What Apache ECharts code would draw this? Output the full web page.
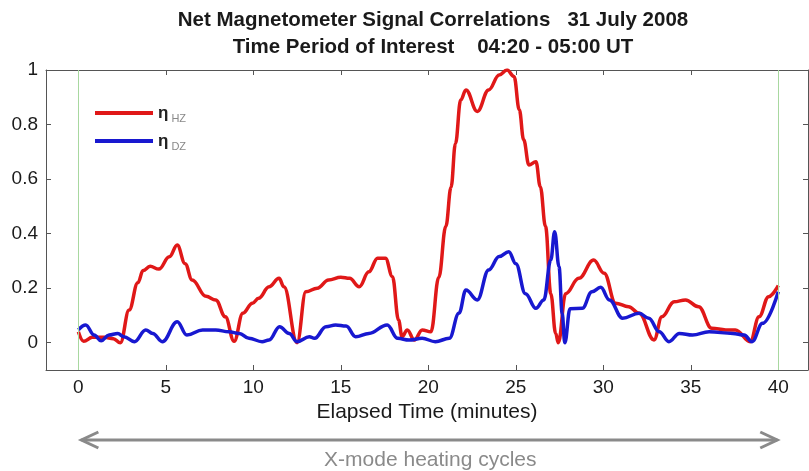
<!DOCTYPE html>
<html>
<head>
<meta charset="utf-8">
<script src="https://cdn.jsdelivr.net/npm/echarts@6/dist/echarts.min.js"></script>
<style>
  html, body { margin: 0; padding: 0; background: #fff; }
  #chart { width: 809px; height: 471px; }
</style>
</head>
<body>
<div id="chart"></div>
<script>
// Elapsed time (minutes) and correlation values for the H-Z pair
const hzTime = [0, 0.3, 0.8, 1.5, 2.0, 2.4, 2.9, 3.4, 3.7, 4.1, 4.6, 5.2, 5.65, 6.1, 6.5, 7.3, 7.85, 8.4, 8.9,
  9.4, 9.95, 10.3, 10.9, 11.47, 11.75, 12.5, 13.0, 13.65, 14.3, 15.0, 15.5, 16.05, 16.6, 17.1, 17.55, 17.95,
  18.3, 18.5, 18.8, 19.2, 19.65, 20.15, 20.6, 21.0, 21.3, 21.55, 21.85, 22.15, 22.8, 23.45, 24.05, 24.5, 24.9,
  25.2, 25.45, 25.75, 26.15, 26.4, 26.7, 27.0, 27.28, 27.43, 27.85, 28.6, 29.45, 30.05, 30.7, 31.45, 32.05,
  32.9, 33.35, 34.05, 34.7, 35.45, 36.2, 37.0, 37.55, 38.4, 38.9, 39.45, 40.0];
const hzValue = [0.04, 0.005, 0.02, 0.02, 0.015, 0.0, 0.12, 0.22, 0.265, 0.28, 0.27, 0.315, 0.358, 0.29, 0.23, 0.17, 0.157, 0.095, 0.005,
  0.108, 0.145, 0.163, 0.205, 0.236, 0.205, 0.0, 0.187, 0.2, 0.23, 0.24, 0.236, 0.205, 0.26, 0.31, 0.31, 0.242,
  0.083, 0.022, 0.047, 0.01, 0.047, 0.04, 0.24, 0.426, 0.57, 0.73, 0.89, 0.927, 0.848, 0.927, 0.982, 1.0, 0.976,
  0.854, 0.744, 0.652, 0.664, 0.572, 0.426, 0.18, 0.034, 0.0, 0.18, 0.236, 0.303, 0.255, 0.145, 0.132, 0.108,
  0.01, 0.095, 0.15, 0.157, 0.132, 0.053, 0.047, 0.047, 0.004, 0.095, 0.169, 0.21];

// Elapsed time (minutes) and correlation values for the D-Z pair
const dzTime = [0, 0.42, 0.9, 1.3, 1.75, 2.25, 2.6, 3.2, 3.85, 4.25, 4.8, 5.65, 6.2, 7.1, 7.85, 8.6, 9.2, 9.75, 10.5,
  10.9, 11.5, 12.05, 12.5, 13.2, 13.5, 14.15, 14.7, 15.3, 15.85, 16.6, 17.65, 18.25, 18.9, 19.65, 20.4, 21.2,
  21.75, 22.15, 22.8, 23.45, 24.05, 24.6, 25.0, 25.55, 26.15, 26.6, 27.0, 27.22, 27.47, 27.65, 27.8, 28.1, 28.8,
  29.35, 29.85, 30.35, 31.1, 32.05, 32.6, 33.2, 33.75, 34.35, 35.1, 36.05, 37.4, 38.05, 38.5, 39.1, 40.0];
const dzValue = [0.047, 0.065, 0.028, 0.007, 0.028, 0.034, 0.022, 0.004, 0.047, 0.034, 0.004, 0.077, 0.028, 0.047, 0.047, 0.04, 0.034, 0.016, 0.004,
  0.01, 0.059, 0.034, 0.004, 0.022, 0.016, 0.059, 0.065, 0.061, 0.022, 0.034, 0.065, 0.016, 0.01, 0.016, 0.004, 0.016,
  0.108, 0.193, 0.157, 0.267, 0.316, 0.334, 0.29, 0.18, 0.126, 0.157, 0.303, 0.407, 0.279, 0.108, 0.0, 0.125, 0.126,
  0.187, 0.203, 0.157, 0.09, 0.108, 0.09, 0.04, 0.004, 0.034, 0.028, 0.04, 0.034, 0.028, 0.004, 0.071, 0.187];

// Axis ticks and the span of the heating cycles
const xTicks = [0, 5, 10, 15, 20, 25, 30, 35, 40];
const yTicks = [0, 0.2, 0.4, 0.6, 0.8, 1];
const heatingBounds = [0, 40];

const seriesNames = ['ηHZ', 'ηDZ'];
const titleLines = ['Net Magnetometer Signal Correlations   31 July 2008', 'Time Period of Interest    04:20 - 05:00 UT'];
const xLabel = 'Elapsed Time (minutes)';
const spanLabel = 'X-mode heating cycles';

const zip = (a, b) => a.map((v, i) => [v, b[i]]);

const FONT = 'Liberation Sans, Arial, sans-serif';
const frame = '#555';

const chart = echarts.init(document.getElementById('chart'), null, { renderer: 'canvas' });

function axisCommon(extra) {
  return Object.assign({
    type: 'value',
    axisLine: { show: true, onZero: false, lineStyle: { color: frame, width: 1 } },
    axisTick: { show: true, inside: true, length: 5, lineStyle: { color: frame } },
    splitLine: { show: false }
  }, extra);
}

chart.setOption({
  animation: false,
  backgroundColor: '#fff',
  title: {
    text: titleLines.join('\n'),
    left: 433,
    top: 7,
    padding: 0,
    textAlign: 'center',
    textStyle: { fontFamily: FONT, fontSize: 20.5, fontWeight: 'bold', color: '#1a1a1a', lineHeight: 27 }
  },
  grid: { left: 46, top: 70, right: 1, bottom: 101 },
  legend: {
    orient: 'vertical',
    left: 90,
    top: 94,
    itemWidth: 58,
    itemHeight: 4,
    itemGap: 0,
    icon: 'rect',
    data: seriesNames,
    formatter: name => '{e|η}{s|' + name.slice(1) + '}',
    textStyle: {
      lineHeight: 28,
      rich: {
        e: { fontFamily: FONT, fontSize: 17, fontWeight: 'bold', color: '#222', lineHeight: 28 },
        s: { fontFamily: FONT, fontSize: 11, color: '#888', padding: [12, 0, 0, 3], lineHeight: 28 }
      }
    }
  },
  xAxis: [
    axisCommon({
      min: -1.85, max: 41.7, position: 'bottom',
      axisTick: { show: true, inside: true, length: 5, lineStyle: { color: frame }, customValues: xTicks },
      axisLabel: { customValues: xTicks, margin: 8, fontFamily: FONT, fontSize: 19, color: '#1a1a1a' },
      name: xLabel, nameLocation: 'middle', nameGap: 30,
      nameTextStyle: { fontFamily: FONT, fontSize: 21, color: '#1a1a1a' }
    }),
    axisCommon({
      min: -1.85, max: 41.7, position: 'top',
      axisTick: { show: true, inside: true, length: 5, lineStyle: { color: frame }, customValues: xTicks },
      axisLabel: { show: false }
    })
  ],
  yAxis: [
    axisCommon({
      min: -0.1, max: 1, position: 'left',
      axisTick: { show: true, inside: true, length: 5, lineStyle: { color: frame }, customValues: yTicks },
      axisLabel: { customValues: yTicks, margin: 8, fontFamily: FONT, fontSize: 19, color: '#1a1a1a' }
    }),
    axisCommon({
      min: -0.1, max: 1, position: 'right',
      axisTick: { show: true, inside: true, length: 5, lineStyle: { color: frame }, customValues: yTicks },
      axisLabel: { show: false }
    })
  ],
  series: [
    {
      name: seriesNames[0],
      type: 'line',
      data: zip(hzTime, hzValue),
      showSymbol: false,
      smooth: 0.4,
      smoothMonotone: 'x',
      color: '#e01818',
      lineStyle: { width: 3.5, color: '#e01818' },
      markLine: {
        silent: true,
        symbol: 'none',
        label: { show: false },
        lineStyle: { color: '#a8d8a0', width: 1, type: 'solid' },
        data: heatingBounds.map(v => ({ xAxis: v }))
      },
      z: 2
    },
    {
      name: seriesNames[1],
      type: 'line',
      data: zip(dzTime, dzValue),
      showSymbol: false,
      smooth: 0.4,
      smoothMonotone: 'x',
      color: '#1818d0',
      lineStyle: { width: 3.5, color: '#1818d0' },
      z: 3
    }
  ]
});

// Double-headed arrow under the axis spanning the heating cycles
const xa = chart.convertToPixel({ xAxisIndex: 0 }, heatingBounds[0]) + 3;
const xb = chart.convertToPixel({ xAxisIndex: 0 }, heatingBounds[1]) - 1;
const ay = 440;
const headLen = 17, headHalf = 8;
const grey = '#8a8a8a';
chart.setOption({
  graphic: [
    {
      type: 'polyline', silent: true,
      shape: { points: [[xa, ay], [xb, ay]] },
      style: { stroke: grey, lineWidth: 3 }
    },
    {
      type: 'polyline', silent: true,
      shape: { points: [[xa + headLen, ay - headHalf], [xa, ay], [xa + headLen, ay + headHalf]] },
      style: { stroke: grey, lineWidth: 3, fill: null, lineJoin: 'miter' }
    },
    {
      type: 'polyline', silent: true,
      shape: { points: [[xb - headLen, ay - headHalf], [xb, ay], [xb - headLen, ay + headHalf]] },
      style: { stroke: grey, lineWidth: 3, fill: null, lineJoin: 'miter' }
    },
    {
      type: 'text', silent: true,
      x: (xa + xb) / 2 + 1, y: 460,
      style: { text: spanLabel, fontFamily: FONT, fontSize: 21, fill: '#8a8a8a', align: 'center', verticalAlign: 'middle' }
    }
  ]
});
</script>
</body>
</html>
